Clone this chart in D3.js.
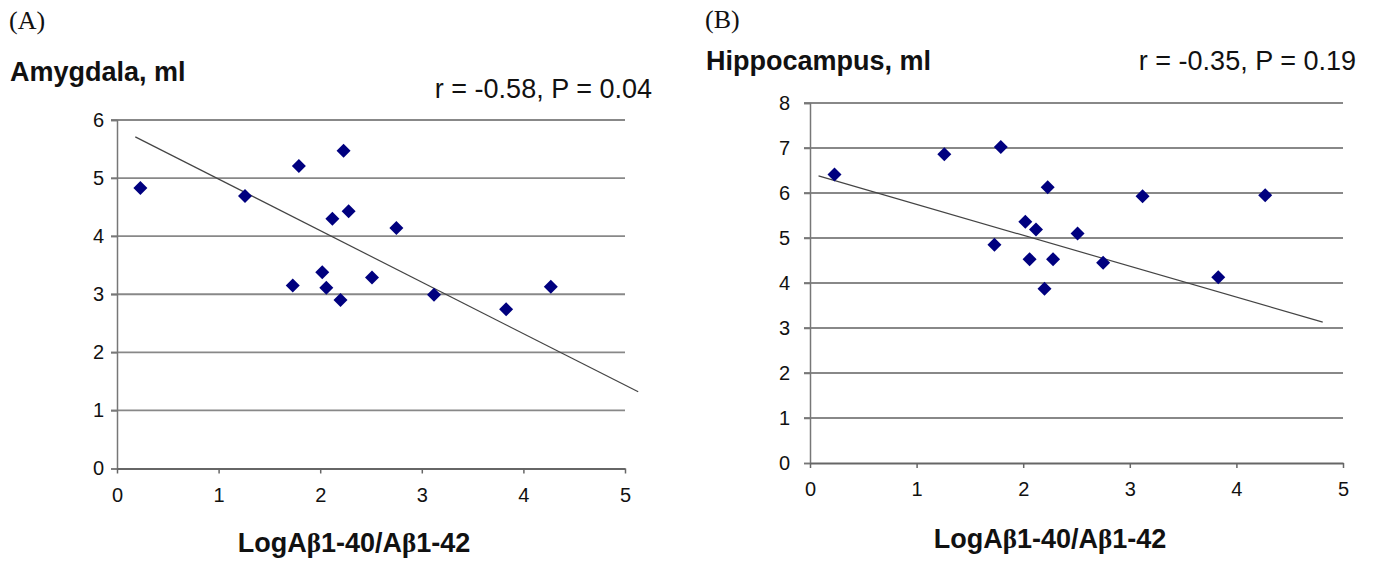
<!DOCTYPE html>
<html>
<head>
<meta charset="utf-8">
<script src="https://cdn.jsdelivr.net/npm/d3@7"></script>
<style>
  html, body { margin: 0; padding: 0; background: #fff; }
  svg { display: block; }
  text { font-family: "Liberation Sans", Arial, sans-serif; fill: #111; }
</style>
</head>
<body>
<svg id="chart" width="1373" height="580"></svg>
<script>
// ---- data ----
const xValues      = [0.23, 1.26, 1.73, 1.79, 2.02, 2.06, 2.12, 2.20, 2.23, 2.28, 2.51, 2.75, 3.12, 3.83, 4.27];
const amygdala     = [4.83, 4.69, 3.15, 5.21, 3.38, 3.11, 4.30, 2.90, 5.47, 4.43, 3.29, 4.14, 2.99, 2.74, 3.13];
const hippocampus  = [6.41, 6.86, 4.85, 7.02, 5.36, 4.53, 5.19, 3.87, 6.13, 4.53, 5.10, 4.45, 5.93, 4.13, 5.95];
const trendAmygdalaX    = [0.18, 5.13];
const trendAmygdalaY    = [5.71, 1.32];
const trendHippocampusX = [0.08, 4.81];
const trendHippocampusY = [6.38, 3.13];
const xTicks  = [0, 1, 2, 3, 4, 5];
const yTicksA = [0, 1, 2, 3, 4, 5, 6];
const yTicksB = [0, 1, 2, 3, 4, 5, 6, 7, 8];
const panelLabels = ["(A)", "(B)"];
const panelTitles = ["Amygdala, ml", "Hippocampus, ml"];
const statTexts   = ["r = -0.58, P = 0.04", "r = -0.35, P = 0.19"];

const svg = d3.select("#chart");

const panels = [
  { left: 117, right: 625, bottom: 468.5, top: 120, yMax: 6, yTicks: yTicksA, ys: amygdala,
    tx: trendAmygdalaX, ty: trendAmygdalaY, labelGap: 13,
    letter: panelLabels[0], title: panelTitles[0], stat: statTexts[0],
    letterPos: [9, 29], titlePos: [10, 81], statPos: [652, 98], xTitleX: 354, xTitleY: 552 },
  { left: 810, right: 1343, bottom: 463, top: 103, yMax: 8, yTicks: yTicksB, ys: hippocampus,
    tx: trendHippocampusX, ty: trendHippocampusY, labelGap: 20,
    letter: panelLabels[1], title: panelTitles[1], stat: statTexts[1],
    letterPos: [705, 28], titlePos: [706, 70], statPos: [1356, 70], xTitleX: 1050, xTitleY: 548 }
];

const diamond = (cx, cy, r) => `M${cx},${cy - r}L${cx + r},${cy}L${cx},${cy + r}L${cx - r},${cy}Z`;

panels.forEach(p => {
  const x = d3.scaleLinear().domain([0, 5]).range([p.left, p.right]);
  const y = d3.scaleLinear().domain([0, p.yMax]).range([p.bottom, p.top]);
  const g = svg.append("g");

  // grid lines
  g.append("g").selectAll("line").data(p.yTicks.filter(t => t > 0)).join("line")
    .attr("x1", p.left - 6).attr("x2", p.right)
    .attr("y1", d => y(d)).attr("y2", d => y(d))
    .attr("stroke", "#888").attr("stroke-width", 1.8);

  // y axis
  const yAxis = g.append("g").attr("transform", `translate(${p.left},0)`)
    .call(d3.axisLeft(y).tickValues(p.yTicks).tickSize(6).tickPadding(p.labelGap - 6).tickFormat(d3.format("d")));
  yAxis.select(".domain").attr("stroke", "#777").attr("stroke-width", 1.5);
  yAxis.selectAll(".tick line").attr("stroke", "#777").attr("stroke-width", 1.5);
  yAxis.selectAll(".tick text").attr("font-size", 20).attr("font-family", "Liberation Sans, Arial, sans-serif").attr("fill", "#111");

  // x axis
  const xAxis = g.append("g").attr("transform", `translate(0,${p.bottom})`)
    .call(d3.axisBottom(x).tickValues(xTicks).tickSize(5).tickSizeOuter(0).tickPadding(14).tickFormat(d3.format("d")));
  xAxis.select(".domain").attr("stroke", "#666").attr("stroke-width", 1.8);
  xAxis.selectAll(".tick line").attr("stroke", "#666").attr("stroke-width", 1.5);
  xAxis.selectAll(".tick text").attr("font-size", 20).attr("font-family", "Liberation Sans, Arial, sans-serif").attr("fill", "#111");

  // trend line
  const trend = p.tx.map((v, i) => [v, p.ty[i]]);
  g.append("path").datum(trend)
    .attr("d", d3.line().x(d => x(d[0])).y(d => y(d[1])))
    .attr("fill", "none").attr("stroke", "#444").attr("stroke-width", 1.2);

  // points
  g.append("g").selectAll("path").data(xValues.map((v, i) => [v, p.ys[i]])).join("path")
    .attr("d", d => diamond(x(d[0]), y(d[1]), 7))
    .attr("fill", "#00007f");

  // texts
  svg.append("text").attr("x", p.letterPos[0]).attr("y", p.letterPos[1])
    .style("font-family", "Liberation Serif, serif")
    .attr("font-size", 26).text(p.letter);
  svg.append("text").attr("x", p.titlePos[0]).attr("y", p.titlePos[1])
    .attr("font-size", 27).attr("font-weight", "bold").text(p.title);
  svg.append("text").attr("x", p.statPos[0]).attr("y", p.statPos[1])
    .attr("text-anchor", "end").attr("font-size", 27).text(p.stat);

  const xt = svg.append("text").attr("x", p.xTitleX).attr("y", p.xTitleY)
    .attr("text-anchor", "middle").attr("font-size", 27).attr("font-weight", "bold");
  xt.append("tspan").text("LogA");
  xt.append("tspan").style("font-family", "Liberation Serif, serif").text("β");
  xt.append("tspan").text("1-40/A");
  xt.append("tspan").style("font-family", "Liberation Serif, serif").text("β");
  xt.append("tspan").text("1-42");
});
</script>
</body>
</html>
